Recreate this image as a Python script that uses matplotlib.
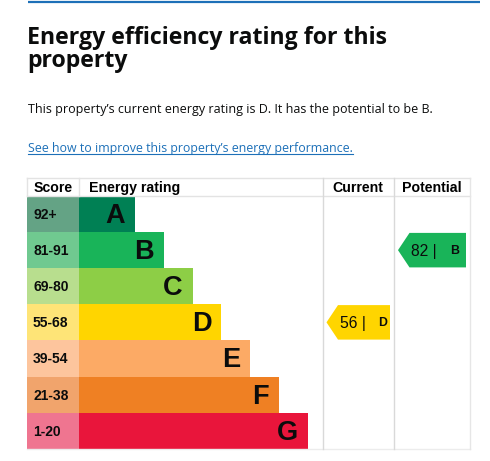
import matplotlib.pyplot as plt
from matplotlib.patches import Polygon

# ---- data ----
bands = ['A', 'B', 'C', 'D', 'E', 'F', 'G']
score_ranges = ['92+', '81-91', '69-80', '55-68', '39-54', '21-38', '1-20']
band_min = [92, 81, 69, 55, 39, 21, 1]
bar_colors = ['#008054', '#19b459', '#8dce46', '#ffd500', '#fcaa65', '#ef8023', '#e9153b']
score_colors = ['#64a385', '#70c990', '#b8de8e', '#fee477', '#fdc59d', '#f1a46c', '#ef7590']
current_score = 56
potential_score = 82
columns = ['Score', 'Energy rating', 'Current', 'Potential']

title_lines = ['Energy efficiency rating for this', 'property']
summary = "This property\u2019s current energy rating is D. It has the potential to be B."
link = "See how to improve this property\u2019s energy performance."


def band_of(score):
    for i, lo in enumerate(band_min):
        if score >= lo:
            return i
    return len(bands) - 1


W, H = 490, 461
fig = plt.figure(figsize=(W / 100, H / 100), dpi=100)
ax = fig.add_axes([0, 0, 1, 1])
ax.set_xlim(0, W)
ax.set_ylim(H, 0)
ax.axis('off')

head_font = ['Open Sans', 'DejaVu Sans']
tab_font = ['Liberation Sans', 'DejaVu Sans']


def fit_text(t, target_w):
    # shrink/grow a text so it spans target_w pixels
    fig.canvas.draw()
    w = t.get_window_extent().width
    t.set_fontsize(t.get_fontsize() * target_w / w)
    return t


# top rule and heading block
ax.plot([28, 480], [2.5, 2.5], color='#1d70b8', lw=1.6, solid_capstyle='butt')
t1 = ax.text(27, 44, title_lines[0], fontsize=16.5, fontweight='bold',
             family=head_font, color='#0b0c0c', va='baseline')
fit_text(t1, 361)
ax.text(27, 67, title_lines[1], fontsize=t1.get_fontsize(), fontweight='bold',
        family=head_font, color='#0b0c0c', va='baseline')
fit_text(ax.text(28, 113, summary, fontsize=9.7, family=head_font, color='#0b0c0c',
                 va='baseline'), 402)
lk = ax.text(28, 152, link, fontsize=9.7, family=head_font, color='#1d70b8', va='baseline')
fit_text(lk, 327)
fig.canvas.draw()
bb = lk.get_window_extent()
ax.plot([bb.x0, bb.x1], [154.5, 154.5], color='#1d70b8', lw=0.8)

# table geometry
left, score_w, bar_x0 = 27, 52, 79
cur_x0, pot_x0, right = 322.5, 394, 470
top, head_h = 178, 18
row_h = 36.1
bar_step = 28.8
first_bar_w = 56
rows_top = top + head_h
bottom = rows_top + row_h * len(bands)
centers = [rows_top + row_h * (i + 0.5) for i in range(len(bands))]

# grid lines
grid = '#d9d9d9'
ax.plot([left, right], [top, top], color='#e3e3e3', lw=1)
ax.plot([left, right], [rows_top, rows_top], color='#e3e3e3', lw=1)
ax.plot([left, right], [bottom, bottom], color='#ececec', lw=1)
for x in (left, bar_x0):
    ax.plot([x, x], [top, rows_top], color='#e3e3e3', lw=1)
for x in (cur_x0, pot_x0):
    ax.plot([x, x], [top, bottom], color=grid, lw=1)
ax.plot([right, right], [top, bottom], color='#e6e6e6', lw=1)

# headers
hy = top + head_h / 2 + 1
hfs = 10.2
ax.text(34, hy, columns[0], fontsize=hfs, fontweight='bold',
        family=tab_font, va='center', ha='left')
ax.text(89, hy, columns[1], fontsize=hfs, fontweight='bold',
        family=tab_font, va='center', ha='left')
ax.text((cur_x0 + pot_x0) / 2, hy, columns[2], fontsize=hfs,
        fontweight='bold', family=tab_font, va='center', ha='center')
ax.text((pot_x0 + right) / 2, hy, columns[3], fontsize=hfs,
        fontweight='bold', family=tab_font, va='center', ha='center')

# score cells and bars
widths = [first_bar_w + bar_step * i for i in range(len(bands))]
ax.barh(centers, [score_w] * len(bands), left=left, height=row_h,
        color=score_colors, linewidth=0)
ax.barh(centers, widths, left=bar_x0, height=row_h, color=bar_colors, linewidth=0)
for i, (lab, rng) in enumerate(zip(bands, score_ranges)):
    ax.text(33, centers[i] + 1, rng, fontsize=10, fontweight='bold', family=tab_font,
            va='center', ha='left', color='#0b0c0c')
    ax.text(bar_x0 + widths[i] - 10, centers[i] + 2, lab, fontsize=19.5,
            fontweight='bold', family=tab_font, va='center', ha='right', color='#0b0c0c')


def rating_arrow(score, col_x0, col_x1):
    i = band_of(score)
    y0, y1 = rows_top + row_h * i + 0.8, rows_top + row_h * (i + 1) - 0.8
    tip = col_x0 + 4
    x1 = col_x1 - 4
    tw = (y1 - y0) / 3
    ax.add_patch(Polygon([(tip, (y0 + y1) / 2), (tip + tw, y0), (x1, y0), (x1, y1),
                          (tip + tw, y1)], closed=True, color=bar_colors[i], lw=0))
    cy = (y0 + y1) / 2 + 1
    ax.text(tip + 13, cy, f'{score} |', fontsize=11.3, family=tab_font,
            va='center', ha='left', color='#0b0c0c')
    ax.text(tip + 52, cy, bands[i], fontsize=8.8, fontweight='bold', family=tab_font,
            va='center', ha='left', color='#0b0c0c')


rating_arrow(current_score, cur_x0, pot_x0)
rating_arrow(potential_score, pot_x0, right)

fig.savefig('out.png', dpi=100)
